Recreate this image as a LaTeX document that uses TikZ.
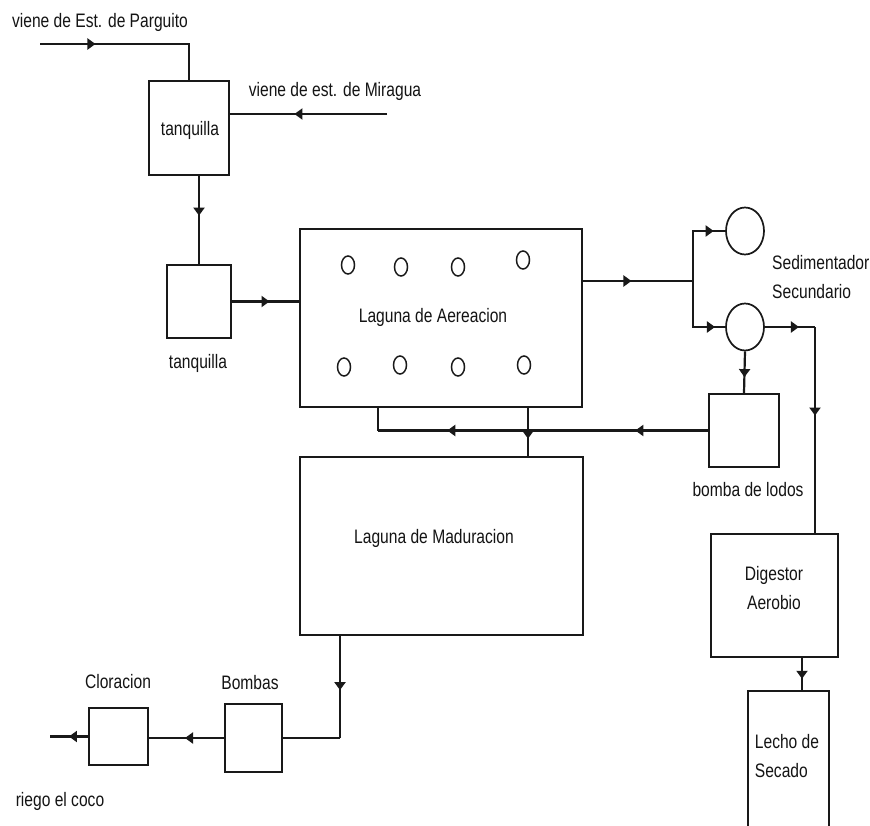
\documentclass[tikz,border=0pt]{standalone}
\usepackage{fontspec}
\setmainfont{Liberation Sans}[FakeStretch=0.8]
\usetikzlibrary{shapes.geometric,decorations.markings,arrows.meta}
\definecolor{linec}{RGB}{25,25,25}
\definecolor{textc}{RGB}{20,20,20}
\begin{document}
\begin{tikzpicture}[x=1pt,y=-1pt,
  ln/.style={draw=linec,line width=2.2pt},
  box/.style={draw=linec,line width=2.2pt,rectangle,inner sep=0pt},
  sed/.style={draw=linec,line width=1.7pt,ellipse,inner sep=0pt,minimum width=38pt,minimum height=47pt},
  aerator/.style={draw=linec,line width=1.5pt,ellipse,inner sep=0pt,minimum width=13pt,minimum height=18pt},
  txt/.style={font=\fontsize{19.5}{28.5}\selectfont,text=textc,inner sep=0pt},
  arr/.style={postaction={decorate,decoration={markings,mark=at position #1 with {\arrow{Triangle[length=8pt,width=11pt]}}}}}
]
\fill[white] (0,0) rectangle (870,826);
\clip (0,0) rectangle (870,826);
% boxes
\node[box,minimum width=80pt,minimum height=94pt] (tq1) at (189,128) {};
\node[txt] (tq1t) at (190,130) {tanquilla};
\node[box,minimum width=64pt,minimum height=73pt] (tq2) at (199,301.5) {};
\node[txt] (tq2t) at (198,363) {tanquilla};
\node[box,minimum width=282pt,minimum height=178pt] (aer) at (441,318) {};
\node[txt] (aert) at (433,317) {Laguna de Aereacion};
\node[aerator] (a1) at (348,265) {};
\node[aerator] (a2) at (401,267) {};
\node[aerator] (a3) at (458,267) {};
\node[aerator] (a4) at (523,260) {};
\node[aerator] (a5) at (344,367) {};
\node[aerator] (a6) at (400,365) {};
\node[aerator] (a7) at (458,367) {};
\node[aerator] (a8) at (524,365) {};
\node[sed] (s1) at (745,231) {};
\node[sed] (s2) at (745,327) {};
\node[txt,anchor=west,align=left] (sedt) at (772,277) {Sedimentador\\Secundario};
\node[box,minimum width=70pt,minimum height=73pt] (bom) at (744,430.5) {};
\node[txt] (bomt) at (748,490) {bomba de lodos};
\node[box,minimum width=283pt,minimum height=178pt] (mad) at (441.5,546) {};
\node[txt] (madt) at (434,538) {Laguna de Maduracion};
\node[box,minimum width=127pt,minimum height=123pt] (dig) at (774.5,595.5) {};
\node[txt,align=center] (digt) at (774,588) {Digestor\\Aerobio};
\node[box,minimum width=81pt,minimum height=180pt] (lec) at (788.5,781) {};
\node[txt,align=left] (lect) at (787,756) {Lecho de\\Secado};
\node[box,minimum width=57pt,minimum height=68pt] (bmb) at (253.5,738) {};
\node[txt] (bmbt) at (250,683) {Bombas};
\node[box,minimum width=59pt,minimum height=57pt] (clo) at (118.5,736.5) {};
\node[txt] (clot) at (118,682) {Cloracion};
\node[txt] (parg) at (100,22) {viene de Est. de Parguito};
\node[txt] (mir) at (335,91) {viene de est. de Miragua};
\node[txt] (rie) at (60,801) {riego el coco};
% connectors
\coordinate (p0) at (40,44);
\draw[ln,arr=0.3] (p0) -| (tq1.north);
\coordinate (m0) at (387,114);
\draw[ln,arr=0.59] (m0) -- (m0 -| tq1.east);
\draw[ln,arr=0.45] (tq2.north |- tq1.south) -- (tq2.north);
\draw[ln,arr=0.56] (tq2.east) -- (tq2.east -| aer.west);
\coordinate (j1) at (693,281);
\draw[ln,arr=0.44] (aer.east |- j1) -- (j1);
\draw[ln,arr=0.86] (j1) |- (s1.west);
\draw[ln,arr=0.87] (j1) |- (s2.west);
\coordinate (j2) at (815,327);
\draw[ln,arr=0.68] (s2.east) -- (j2);
\draw[ln,arr=0.43] (j2) -- (j2 |- dig.north);
\draw[ln,arr=0.62] (s2.south) -- (bom.north);
\coordinate (j3) at (378,430.5);
\draw[ln,arr=0.22,arr=0.79] (bom.west) -- (j3);
\draw[ln] (j3) -- (j3 |- aer.south);
\coordinate (k1) at (528,0);
\draw[ln,arr=0.64] (aer.south -| k1) -- (mad.north -| k1);
\coordinate (j4) at (340,738);
\draw[ln,arr=0.53] (mad.south -| j4) -- (j4);
\draw[ln] (j4) -- (bmb.east);
\draw[ln,arr=0.52] (bmb.west) -- (bmb.west -| clo.east);
\coordinate (out) at (50,736.5);
\draw[ln,arr=0.5] (clo.west) -- (out);
\coordinate (k2) at (802,0);
\draw[ln,arr=0.65] (dig.south -| k2) -- (lec.north -| k2);
\end{tikzpicture}
\end{document}
